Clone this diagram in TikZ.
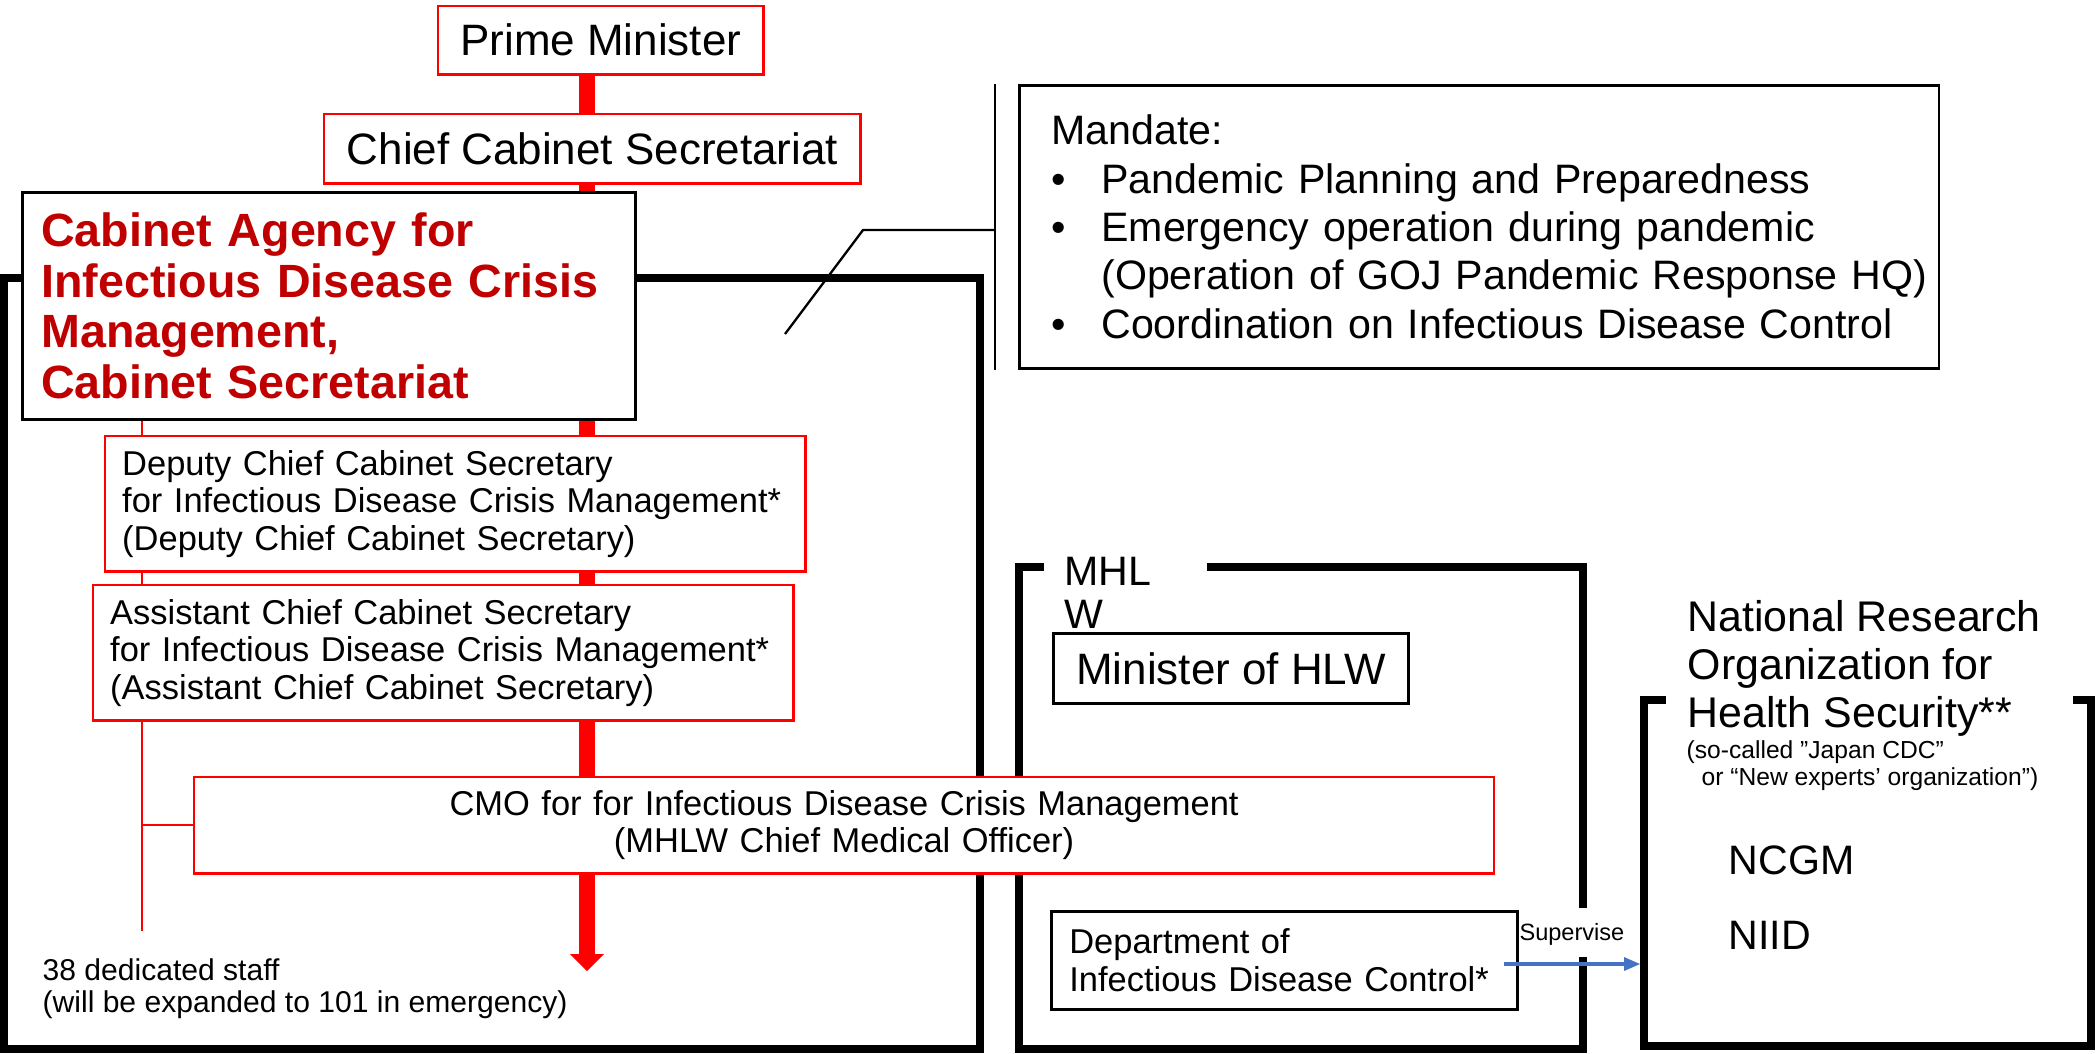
\documentclass[tikz,border=0pt]{standalone}
\usepackage{fontspec}
\setmainfont{Liberation Sans}
\usepackage{tikz}
\usetikzlibrary{arrows.meta,positioning,backgrounds}
\definecolor{agencyred}{HTML}{C00000}
\definecolor{superviseblue}{HTML}{4472C4}
\newcommand{\fsbig}{\fontsize{12.5pt}{14pt}\selectfont}
\newcommand{\fsmid}{\fontsize{9.8pt}{10.67pt}\selectfont}
\newcommand{\fsagency}{\fontsize{13.26pt}{14.4pt}\selectfont\bfseries}
\newcommand{\fsmandate}{\fontsize{11.7pt}{13.75pt}\selectfont}
\newcommand{\fsnro}{\fontsize{12.2pt}{13.66pt}\selectfont}
\newcommand{\fsmhlw}{\fontsize{11.7pt}{12.5pt}\selectfont}
\newcommand{\fsstaff}{\fontsize{8.55pt}{9.1pt}\selectfont}
\newcommand{\fssmall}{\fontsize{7pt}{7.7pt}\selectfont}
\newcommand{\fstiny}{\fontsize{6.7pt}{7.5pt}\selectfont}
\tikzstyle{redbox}=[draw=red,line width=0.7pt,fill=white,inner sep=0pt,anchor=north west]
\tikzstyle{blackbox}=[draw=black,line width=0.75pt,fill=white,inner sep=0pt,anchor=north west]
\tikzstyle{plain}=[inner sep=0pt,anchor=north west,align=left]
\tikzstyle{frame}=[line width=2.3pt,line join=miter]
\tikzstyle{bracket}=[line width=0.65pt]
\tikzstyle{spine}=[red,line width=4.55pt,-{Triangle[length=0.17cm,width=0.34cm,line width=0pt]}]
\tikzstyle{staffline}=[red,line width=0.6pt]
\tikzstyle{supervise}=[superviseblue,line width=1pt,-{Triangle[length=0.16cm,width=0.14cm,line width=0pt]}]

\begin{document}
\begin{tikzpicture}[x=0.01cm,y=-0.01cm]
\useasboundingbox (0,0) rectangle (2096,1053);
\draw[frame] (4,278) rectangle (980,1049);
\draw[frame] (1044,567) -- (1019,567) -- (1019,1049) -- (1583,1049) -- (1583,957);
\draw[frame] (1583,908) -- (1583,567) -- (1207,567);
\draw[frame] (1666,700) -- (1644,700) -- (1644,1046) -- (2091,1046) -- (2091,700) -- (2073,700);

\coordinate (spine) at (587,971);
\coordinate (staffend) at (142,931);
\coordinate (supend) at (1640,964);
\coordinate (elbow) at (863,230);
\coordinate (callout) at (785,334);

\node[redbox,minimum width=3.25cm,minimum height=0.68cm,font=\fsbig] (pm) at (437,5) {Prime Minister};
\node[redbox,minimum width=5.36cm,minimum height=0.69cm,font=\fsbig] (ccs) at (323,113) {Chief Cabinet Secretariat};
\node[blackbox,text width=5.75cm,inner xsep=0.19cm,minimum height=2.27cm,align=left,font=\fsagency,text=agencyred] (agency) at (21,191)
  {Cabinet Agency for\\Infectious Disease Crisis\\Management,\\Cabinet Secretariat};
\node[redbox,text width=6.66cm,inner xsep=0.17cm,minimum height=1.35cm,align=left,font=\fsmid] (deputy) at (104,435)
  {Deputy Chief Cabinet Secretary\\for Infectious Disease Crisis Management*\\(Deputy Chief Cabinet Secretary)};
\node[redbox,text width=6.66cm,inner xsep=0.17cm,minimum height=1.35cm,align=left,font=\fsmid] (assistant) at (92,584)
  {Assistant Chief Cabinet Secretary\\for Infectious Disease Crisis Management*\\(Assistant Chief Cabinet Secretary)};
\node[redbox,text width=12.5cm,inner xsep=0.245cm,minimum height=0.96cm,align=center,font=\fsmid] (cmo) at (193,776)
  {CMO for for Infectious Disease Crisis Management\\(MHLW Chief Medical Officer)};
\node[plain,font=\fsstaff] (staff) at (42,958) {38 dedicated staff\\(will be expanded to 101 in emergency)};

\node[blackbox,text width=8.55cm,inner xsep=0.32cm,minimum height=2.83cm,align=left,font=\fsmandate] (mandate) at (1018,84)
  {Mandate:\\
   \makebox[0.5cm][l]{\textbullet}Pandemic Planning and Preparedness\\
   \makebox[0.5cm][l]{\textbullet}Emergency operation during pandemic\\
   \mbox{\hspace*{0.5cm}(Operation of GOJ Pandemic Response HQ)}\\
   \makebox[0.5cm][l]{\textbullet}Coordination on Infectious Disease Control};
\coordinate (brk) at ([xshift=-0.23cm]mandate.north west);
\draw[bracket] (brk) -- (brk |- mandate.south);
\draw[bracket] (elbow -| brk) -- (elbow) -- (callout);

\node[plain,font=\fsmhlw] (mhlw) at (1064,556) {MHL\\W};
\node[blackbox,minimum width=3.55cm,minimum height=0.7cm,font=\fsbig] (minister) at (1052,632) {Minister of HLW};
\node[blackbox,text width=4.3cm,inner xsep=0.18cm,minimum height=0.98cm,align=left,font=\fsmid] (dept) at (1050,910)
  {Department of\\Infectious Disease Control*};

\node[plain,font=\fsnro] (nro) at (1687,600) {National Research\\Organization for\\Health Security**};
\node[plain,font=\fssmall] (nronote) at (1686,740) {(so-called ”Japan CDC”\\\hspace*{0.15cm}or “New experts’ organization”)};
\node[inner sep=0pt,anchor=base west,font=\fsmandate] (ncgm) at (1728,874) {NCGM};
\node[inner sep=0pt,anchor=base west,font=\fsmandate] (niid) at (1728,949) {NIID};

\draw[supervise] ([xshift=-0.15cm]dept.east |- supend) -- node[above=0.17cm,inner sep=0pt,font=\fstiny,text=black] (suplabel) {Supervise} (supend);

\begin{scope}[on background layer]
\draw[spine] (pm.south -| spine) -- (spine);
\draw[staffline] (agency.south -| staffend) -- (staffend);
\draw[staffline] (cmo.west -| staffend) -- (cmo.west);
\end{scope}
\end{tikzpicture}
\end{document}
